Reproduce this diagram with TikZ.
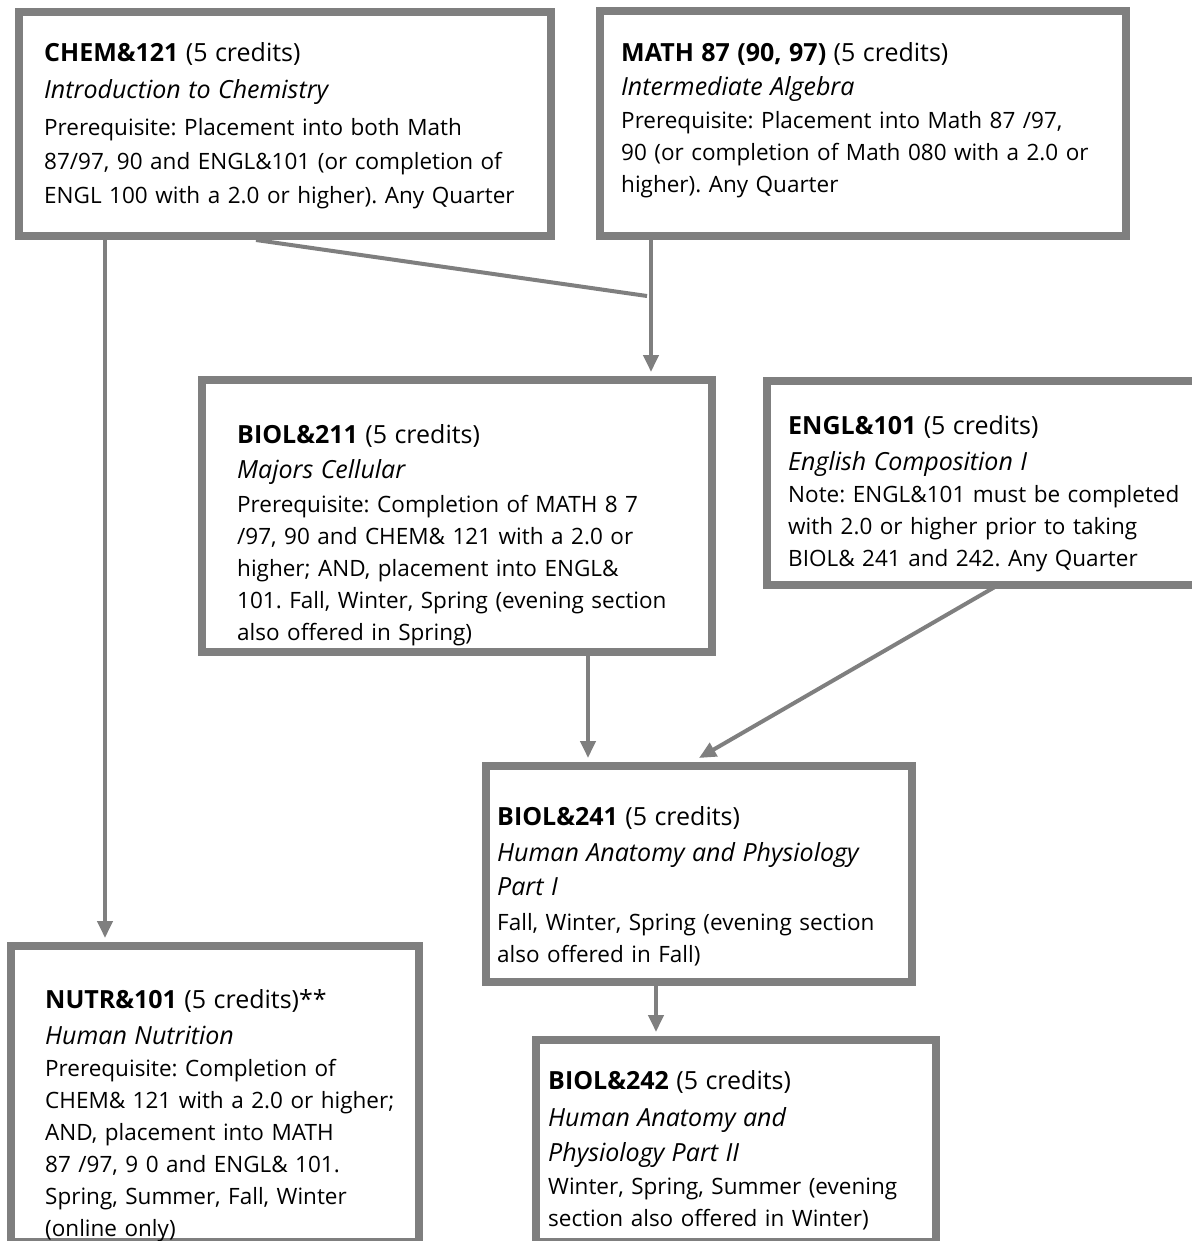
\documentclass[tikz,border=0pt]{standalone}
\usepackage{fontspec}
\setmainfont{Open Sans}
\usetikzlibrary{arrows.meta}
\definecolor{boxgray}{HTML}{7F7F7F}
\newcommand{\ctitle}{\fontsize{25}{32}\selectfont}
\frenchspacing
\tikzset{
	course/.style={draw=boxgray, line width=8pt, inner sep=0pt},
	info/.style={anchor=base west, inner sep=0pt, text width=500pt, align=left, font=\fontsize{22.5}{32}\selectfont},
	prereq/.style={draw=boxgray, line width=4pt, -{Triangle[width=15pt,length=17pt]}}
}
\begin{document}
\begin{tikzpicture}[x=1pt,y=-1pt]
	\useasboundingbox (0,0) rectangle (1191,1241);
	% course boxes
	\node[course, minimum width=532pt, minimum height=224pt] (chem) at (285,124) {};
	\node[course, minimum width=526pt, minimum height=225pt] (math) at (863,123.5) {};
	\node[course, minimum width=510pt, minimum height=272pt] (biol211) at (457,516) {};
	\node[course, minimum width=429pt, minimum height=204pt] (engl) at (981.5,483) {};
	\node[course, minimum width=426pt, minimum height=216pt] (biol241) at (699,874) {};
	\node[course, minimum width=408pt, minimum height=296pt] (nutr) at (215,1094) {};
	\node[course, minimum width=400pt, minimum height=202pt] (biol242) at (736,1141) {};
	% texts
	\node[info, font=\fontsize{22.5}{34}\selectfont] (chemtxt) at ([xshift=29pt,yshift=-54pt]chem.north west)
		{{\ctitle\textbf{CHEM\&121} (5 credits)}\\[3pt]
		{\ctitle\itshape Introduction to Chemistry}\\[3pt]
		Prerequisite: Placement into both Math\\
		87/97, 90 and ENGL\&101 (or completion of\\
		ENGL 100 with a 2.0 or higher). Any Quarter};
	\node[info] (mathtxt) at ([xshift=25pt,yshift=-55pt]math.north west)
		{{\ctitle\textbf{MATH 87 (90, 97)} (5 credits)}\\[2pt]
		{\ctitle\itshape Intermediate Algebra}\\[1pt]
		Prerequisite: Placement into Math 87 /97,\\
		90 (or completion of Math 080 with a 2.0 or\\
		higher). Any Quarter};
	\node[info] (biol211txt) at ([xshift=39pt,yshift=-67pt]biol211.north west)
		{{\ctitle\textbf{BIOL\&211} (5 credits)}\\[3pt]
		{\ctitle\itshape Majors Cellular}\\[2pt]
		Prerequisite: Completion of MATH 8 7\\
		/97, 90 and CHEM\& 121 with a 2.0 or\\
		higher; AND, placement into ENGL\&\\
		101. Fall, Winter, Spring (evening section\\
		also offered in Spring)};
	\node[info] (engltxt) at ([xshift=25pt,yshift=-57pt]engl.north west)
		{{\ctitle\textbf{ENGL\&101} (5 credits)}\\[4pt]
		{\ctitle\itshape English Composition I}\\
		Note: ENGL\&101 must be completed\\
		with 2.0 or higher prior to taking\\
		BIOL\& 241 and 242. Any Quarter};
	\node[info] (biol241txt) at ([xshift=15pt,yshift=-63pt]biol241.north west)
		{{\ctitle\textbf{BIOL\&241} (5 credits)}\\[4pt]
		{\ctitle\itshape Human Anatomy and Physiology}\\[2pt]
		{\ctitle\itshape Part I}\\[3pt]
		Fall, Winter, Spring (evening section\\
		also offered in Fall)};
	\node[info] (nutrtxt) at ([xshift=38pt,yshift=-66pt]nutr.north west)
		{{\ctitle\textbf{NUTR\&101} (5 credits)**}\\[4pt]
		{\ctitle\itshape Human Nutrition}\\
		Prerequisite: Completion of\\
		CHEM\& 121 with a 2.0 or higher;\\
		AND, placement into MATH\\
		87 /97, 9 0 and ENGL\& 101.\\
		Spring, Summer, Fall, Winter\\
		(online only)};
	\node[info] (biol242txt) at ([xshift=16pt,yshift=-53pt]biol242.north west)
		{{\ctitle\textbf{BIOL\&242} (5 credits)}\\[5pt]
		{\ctitle\itshape Human Anatomy and}\\[3pt]
		{\ctitle\itshape Physiology Part II}\\[1pt]
		Winter, Spring, Summer (evening\\
		section also offered in Winter)};
	% prerequisite arrows
	\coordinate (chemend) at (647,296);
	\draw[draw=boxgray, line width=4pt] ([xshift=241pt]chem.south west) -- (chemend);
	\draw[prereq, shorten >=4pt] ([xshift=90pt]chem.south west) -- ([xshift=90pt]chem.south west |- nutr.north);
	\draw[prereq, shorten >=4pt] ([xshift=55pt]math.south west) -- ([xshift=55pt]math.south west |- biol211.north);
	\draw[prereq, shorten >=4pt] ([xshift=390pt]biol211.south west) -- ([xshift=390pt]biol211.south west |- biol241.north);
	\draw[prereq] ([xshift=237pt,yshift=5pt]engl.south west) -- ([xshift=217pt,yshift=4pt]biol241.north west);
	\draw[prereq, shorten >=4pt] ([xshift=174pt]biol241.south west) -- ([xshift=174pt]biol241.south west |- biol242.north);
\end{tikzpicture}
\end{document}
